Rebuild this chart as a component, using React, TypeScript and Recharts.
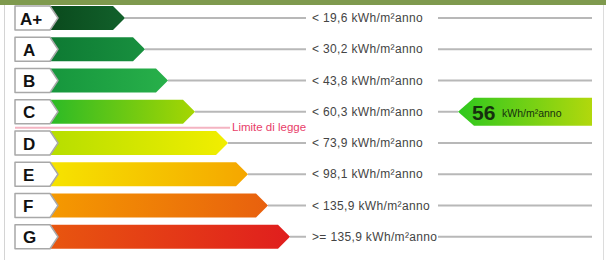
import React from "react";
import { BarChart, Bar, XAxis, YAxis } from "recharts";

const classes = ["A+", "A", "B", "C", "D", "E", "F", "G"];
const barLength = [75, 95, 118, 145, 178, 198, 218, 240];
const thresholds = [19.6, 30.2, 43.8, 60.3, 73.9, 98.1, 135.9, Infinity];
const thresholdLabels = [
  "< 19,6 kWh/m²anno",
  "< 30,2 kWh/m²anno",
  "< 43,8 kWh/m²anno",
  "< 60,3 kWh/m²anno",
  "< 73,9 kWh/m²anno",
  "< 98,1 kWh/m²anno",
  "< 135,9 kWh/m²anno",
  ">= 135,9 kWh/m²anno",
];
const consumption = 56;
const consumptionUnit = "kWh/m²anno";
const limitClass = "C";
const limitLabel = "Limite di legge";

const gradients = [
  ["#0a4a1d", "#12612b"],
  ["#0e7a33", "#18903f"],
  ["#16963d", "#28b04a"],
  ["#2cba26", "#a6d602"],
  ["#b6de00", "#f2ee00"],
  ["#f6e400", "#f5a600"],
  ["#f59a00", "#e8600e"],
  ["#e8560f", "#e01e1e"],
];

const data = classes.map((cls, i) => ({ cls, len: barLength[i], label: thresholdLabels[i] }));
const currentIndex = thresholds.findIndex((t) => consumption < t);

const FONT = "Arial, 'Liberation Sans', sans-serif";

const EnergyBar = (props: any) => {
  const { x, y, width, height, index, payload } = props;
  const cy = y + height / 2;
  const tip = height / 2;
  const [c1, c2] = gradients[index];
  const gid = `grad-${index}`;
  const isCurrent = index === currentIndex;
  return (
    <g>
      <defs>
        <linearGradient id={gid} x1="0" y1="0" x2="1" y2="0">
          <stop offset="0%" stopColor={c1} />
          <stop offset="100%" stopColor={c2} />
        </linearGradient>
        {isCurrent && (
          <linearGradient id="grad-current" x1="0" y1="0" x2="1" y2="0">
            <stop offset="0%" stopColor="#2ec81e" />
            <stop offset="100%" stopColor="#b2d80c" />
          </linearGradient>
        )}
      </defs>
      <polygon
        points={`${x},${y} ${x + width - tip},${y} ${x + width},${cy} ${x + width - tip},${y + height} ${x},${y + height}`}
        fill={`url(#${gid})`}
      />
      {/* class label box */}
      <polygon
        points={`15,${y} 50,${y} 58,${cy} 50,${y + height} 15,${y + height}`}
        fill="#ffffff"
        stroke="#a8a8a8"
        strokeWidth={1.5}
        strokeLinejoin="round"
      />
      <text
        x={payload.cls.length > 1 ? 20 : 23}
        y={cy + 1}
        dominantBaseline="central"
        fontFamily={FONT}
        fontWeight="bold"
        fontSize={17}
        fill="#111"
      >
        {payload.cls}
      </text>
      <line x1={x + width} y1={cy} x2={306} y2={cy} stroke="#b8b8b8" strokeWidth={2} />
      <text x={312} y={cy} dominantBaseline="central" fontFamily={FONT} fontSize={12} letterSpacing={0.35} fill="#444">
        {payload.label}
      </text>
      {isCurrent ? (
        <g>
          <line x1={438} y1={cy} x2={458} y2={cy} stroke="#b8b8b8" strokeWidth={2} />
          <polygon
            points={`458,${cy} 474,${cy - 14} 592,${cy - 14} 592,${cy + 14} 474,${cy + 14}`}
            fill="url(#grad-current)"
          />
          <text x={472} y={cy + 1} dominantBaseline="central" fontFamily={FONT} fontWeight="bold" fontSize={21} fill="#16300e">
            {consumption}
          </text>
          <text x={502} y={cy + 1} dominantBaseline="central" fontFamily={FONT} fontSize={10.5} fill="#16300e">
            {consumptionUnit}
          </text>
        </g>
      ) : (
        <line x1={438} y1={cy} x2={592} y2={cy} stroke="#b8b8b8" strokeWidth={2} />
      )}
      {payload.cls === limitClass && (
        <g>
          <line x1={15} y1={y + height + 4} x2={230} y2={y + height + 4} stroke="#f4b4c2" strokeWidth={2} />
          <text x={232} y={y + height + 3} dominantBaseline="central" fontFamily={FONT} fontSize={11.5} fill="#e8406a">
            {limitLabel}
          </text>
        </g>
      )}
    </g>
  );
};

export default function App() {
  return (
    <div style={{ position: "relative", width: 606, height: 260, background: "#fff", overflow: "hidden" }}>
      <style>{`body{margin:0}`}</style>
      <div style={{ position: "absolute", left: 0, top: 0, width: 606, height: 5, background: "#7f9a4e" }} />
      <div style={{ position: "absolute", left: 4, top: 5, width: 1, height: 255, background: "#d4d4d4" }} />
      <div style={{ position: "absolute", left: 603, top: 5, width: 1, height: 255, background: "#dcdcdc" }} />
      <BarChart
        width={606}
        height={260}
        data={data}
        layout="vertical"
        margin={{ top: 2, right: 0, bottom: 8, left: 50 }}
      >
        <XAxis type="number" domain={[0, 556]} hide />
        <YAxis type="category" dataKey="cls" hide />
        <Bar dataKey="len" barSize={24} shape={EnergyBar} isAnimationActive={false} />
      </BarChart>
    </div>
  );
}
